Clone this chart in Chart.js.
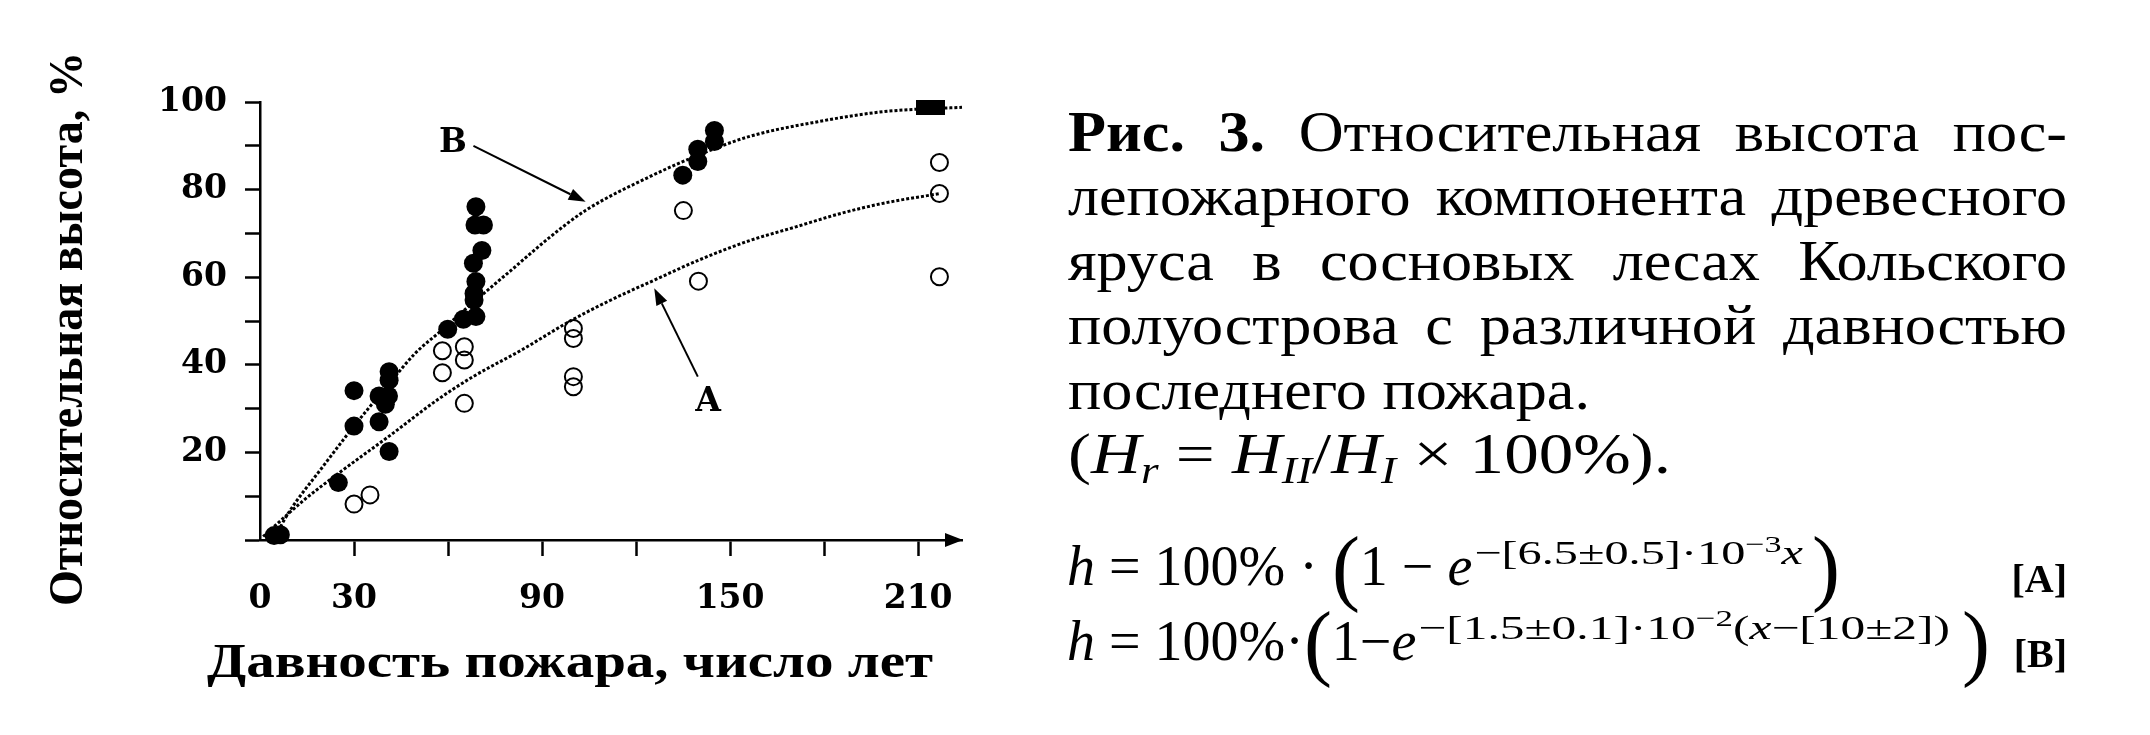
<!DOCTYPE html>
<html>
<head>
<meta charset="utf-8">
<script src="https://cdn.jsdelivr.net/npm/chart.js@4.4.1/dist/chart.umd.min.js"></script>
<style>
  html, body { margin: 0; padding: 0; background: #fff; }
  canvas { display: block; }
</style>
</head>
<body>
<canvas id="myChart" width="2150" height="735"></canvas>
<script>
// filled circles (curve B data), years since fire / relative height %
const filledX = [4.5, 6.5, 25, 30, 30, 38, 38, 40, 41, 41.2, 41.2, 41.2,
  59.9, 64.9, 68.9, 68.3, 68.3, 68.9, 68.1, 70.8, 68.6, 71.3, 68.9,
  134.9, 139.7, 139.7, 145, 145];
const filledY = [1, 1.2, 13.1, 34.1, 26, 27, 32.9, 31, 32.9, 38.4, 36.5, 20.2,
  48.1, 50.4, 51, 54.8, 56.3, 59, 63.2, 66.1, 71.9, 71.9, 76.1,
  83.3, 86.4, 89.2, 91, 93.5];

// open circles (curve A data)
const openX = [30, 35.1, 58.2, 58.2, 65.2, 65.2, 65.2, 100, 100, 100, 100, 135.1, 139.9, 216.8, 216.8, 216.8];
const openY = [8.2, 10.3, 43.2, 38.2, 44.1, 41.1, 31.2, 48.3, 46, 37.3, 35, 75.2, 59.1, 86.2, 79.1, 60.1];

// black block at the end of curve B
const squareX = [214];
const squareY = [98.8];

// fitted curves as drawn
const curveAX = [1, 14, 25, 41, 57, 68, 83.5, 99.5, 112, 126, 140, 156, 171, 185, 199, 217];
const curveAY = [0.8, 9.1, 15.2, 23.6, 32.2, 37.3, 43.4, 50.2, 54.8, 59.4, 63.9, 68.3, 71.5, 74.5, 76.9, 79.1];
const curveBX = [5, 9, 20, 30, 41, 49.5, 58, 66.5, 80, 92.6, 104, 124.5, 140, 156, 178, 199, 224];
const curveBY = [1, 6.1, 16.7, 26, 35.5, 42.6, 47.9, 53.3, 61.5, 69.2, 75.3, 83, 87.9, 92.1, 95.5, 97.8, 98.8];

const xTicks = [0, 30, 60, 90, 120, 150, 180, 210];
const xTickLabels = ['0', '30', '', '90', '', '150', '', '210'];
const yTickLabels = ['', '', '20', '', '40', '', '60', '', '80', '', '100'];

const xTitle = 'Давность пожара, число лет';
const yTitle = 'Относительная высота, %';

const captionLines = [
  [['Рис.', true], ['3.', true], ['Относительная'], ['высота'], ['пос-']],
  [['лепожарного'], ['компонента'], ['древесного']],
  [['яруса'], ['в'], ['сосновых'], ['лесах'], ['Кольского']],
  [['полуострова'], ['с'], ['различной'], ['давностью']],
  [['последнего'], ['пожара.']]
];

// curve labels with their arrows (data units)
const curveNotes = [
  { label: 'В', at: [61.6, 90.6], from: [68.1, 90.0], to: [103.9, 77.2] },
  { label: 'А', at: [143, 31.3], from: [139.7, 37.3], to: [125.8, 57.5] }
];

const toPts = (xs, ys) => xs.map((v, i) => ({ x: v, y: ys[i] }));

const block = document.createElement('canvas');
block.width = 29; block.height = 15;
const bctx = block.getContext('2d');
bctx.fillStyle = '#000';
bctx.fillRect(0, 0, 29, 15);

const SERIF = '"Liberation Serif", serif';

function fitText(ctx, text, x, y, font, width, align) {
  ctx.save();
  ctx.font = font;
  const s = width / ctx.measureText(text).width;
  ctx.translate(x, y);
  ctx.scale(s, 1);
  ctx.textAlign = align;
  ctx.fillText(text, 0, 0);
  ctx.restore();
}

function runsWidth(ctx, parts) {
  let w = 0;
  parts.forEach(p => { ctx.font = p.f; w += ctx.measureText(p.t).width + (p.gap || 0); });
  return w;
}

// draw a list of runs one after another, returns end x
function runs(ctx, x, y, parts, sx) {
  sx = sx || 1;
  parts.forEach(p => {
    ctx.font = p.f;
    ctx.save();
    ctx.translate(x, y + (p.dy || 0));
    ctx.scale(sx, 1);
    ctx.textAlign = 'left';
    ctx.fillText(p.t, 0, 0);
    ctx.restore();
    x += (ctx.measureText(p.t).width + (p.gap || 0)) * sx;
  });
  return x;
}

function arrow(ctx, x1, y1, x2, y2) {
  const a = Math.atan2(y2 - y1, x2 - x1);
  const len = 17, hw = 6;
  ctx.beginPath();
  ctx.moveTo(x1, y1);
  ctx.lineTo(x2 - len * Math.cos(a), y2 - len * Math.sin(a));
  ctx.lineWidth = 2;
  ctx.stroke();
  ctx.beginPath();
  ctx.moveTo(x2, y2);
  ctx.lineTo(x2 - len * Math.cos(a) + hw * Math.sin(a), y2 - len * Math.sin(a) - hw * Math.cos(a));
  ctx.lineTo(x2 - len * Math.cos(a) - hw * Math.sin(a), y2 - len * Math.sin(a) + hw * Math.cos(a));
  ctx.closePath();
  ctx.fill();
}

const extras = {
  id: 'extras',
  afterDraw(chart) {
    const { ctx, scales: { x, y } } = chart;
    const X = v => x.getPixelForValue(v);
    const Y = v => y.getPixelForValue(v);
    ctx.save();
    ctx.fillStyle = '#000';
    ctx.strokeStyle = '#000';

    // arrow head of the x axis
    const ax = x.right + 1, ay = Y(0);
    ctx.beginPath();
    ctx.moveTo(ax, ay);
    ctx.lineTo(ax - 18, ay - 7);
    ctx.lineTo(ax - 18, ay + 7);
    ctx.closePath();
    ctx.fill();

    curveNotes.forEach(n => {
      arrow(ctx, X(n.from[0]), Y(n.from[1]), X(n.to[0]), Y(n.to[1]));
      ctx.font = 'bold 33px "DejaVu Serif", serif';
      ctx.textAlign = 'center';
      ctx.textBaseline = 'middle';
      ctx.fillText(n.label, X(n.at[0]), Y(n.at[1]));
    });
    ctx.textBaseline = 'alphabetic';

    // axis titles
    fitText(ctx, xTitle, 570, 677, 'bold 48px ' + SERIF, 726, 'center');
    ctx.save();
    ctx.translate(82, 329);
    ctx.rotate(-Math.PI / 2);
    fitText(ctx, yTitle, 0, 0, 'bold 49px ' + SERIF, 554, 'center');
    ctx.restore();

    // caption block
    const L = 1068, R = 2067, base = 151, lh = 64.4;
    const reg = '58px ' + SERIF, bold = 'bold 58px ' + SERIF;
    ctx.font = reg;
    const sx = 522 / ctx.measureText('последнего пожара.').width;
    captionLines.forEach((words, i) => {
      const ws = words.map(w => { ctx.font = w[1] ? bold : reg; return ctx.measureText(w[0]).width * sx; });
      const total = ws.reduce((a, b) => a + b, 0);
      const last = i === captionLines.length - 1;
      ctx.font = reg;
      const gap = last ? ctx.measureText(' ').width * sx : (R - L - total) / (words.length - 1);
      let cx = L;
      words.forEach((w, j) => {
        runs(ctx, cx, base + lh * i, [{ t: w[0], f: w[1] ? bold : reg }], sx);
        cx += ws[j] + gap;
      });
    });

    const it = 'italic 58px ' + SERIF, sub = 'italic 38px ' + SERIF;
    const hr = [
      { t: '(', f: reg }, { t: 'H', f: it }, { t: 'r', f: sub, dy: 10 },
      { t: ' = ', f: reg }, { t: 'H', f: it }, { t: 'II', f: sub, dy: 10 },
      { t: '/', f: reg }, { t: 'H', f: it }, { t: 'I', f: sub, dy: 10 },
      { t: ' × 100%).', f: reg }
    ];
    runs(ctx, L, base + lh * 5, hr, 603 / runsWidth(ctx, hr));

    // formulas
    const fr = '56px ' + SERIF, fi = 'italic 56px ' + SERIF, big = '84px ' + SERIF;
    const s1 = '34px ' + SERIF, s1i = 'italic 34px ' + SERIF, s2 = '24px ' + SERIF;

    let ex = runs(ctx, 1067, 585, [
      { t: 'h', f: fi }, { t: ' = ', f: fr }, { t: '100% · ', f: fr },
      { t: '(', f: big, dy: 10 }, { t: '1 − ', f: fr }, { t: 'e', f: fi, gap: 2 }
    ]);
    const supA = [
      { t: '−[6.5±0.5]·10', f: s1, dy: -21 }, { t: '−3', f: s2, dy: -33 }, { t: 'x', f: s1i, dy: -21 }
    ];
    runs(ctx, ex, 585, supA, (1803 - ex) / runsWidth(ctx, supA));
    runs(ctx, 1812, 585, [{ t: ')', f: big, dy: 10 }]);

    ex = runs(ctx, 1067, 660, [
      { t: 'h', f: fi }, { t: ' = ', f: fr }, { t: '100%·', f: fr },
      { t: '(', f: big, dy: 10 }, { t: '1−', f: fr }, { t: 'e', f: fi, gap: 2 }
    ]);
    const supB = [
      { t: '−[1.5±0.1]·10', f: s1, dy: -21 }, { t: '−2', f: s2, dy: -34 },
      { t: '(', f: s1, dy: -21 }, { t: 'x', f: s1i, dy: -21 }, { t: '−[10±2])', f: s1, dy: -21 }
    ];
    runs(ctx, ex, 660, supB, (1950 - ex) / runsWidth(ctx, supB));
    runs(ctx, 1962, 660, [{ t: ')', f: big, dy: 10 }]);

    ctx.font = 'bold 40px ' + SERIF;
    ctx.textAlign = 'right';
    ctx.fillText('[А]', R, 592);
    ctx.fillText('[В]', R, 667);
    ctx.restore();
  }
};

const lineStyle = {
  showLine: true, fill: false, borderColor: '#000', borderWidth: 3, borderDash: [3, 2],
  pointRadius: 0, cubicInterpolationMode: 'monotone', clip: false, order: 2
};

new Chart(document.getElementById('myChart'), {
  type: 'scatter',
  data: {
    datasets: [
      Object.assign({ label: 'A', data: toPts(curveAX, curveAY) }, lineStyle),
      Object.assign({ label: 'B', data: toPts(curveBX, curveBY) }, lineStyle),
      {
        label: 'open', data: toPts(openX, openY), pointRadius: 8.5, borderWidth: 2,
        borderColor: '#000', backgroundColor: 'rgba(0,0,0,0)', clip: false, order: 1
      },
      {
        label: 'filled', data: toPts(filledX, filledY), pointRadius: 9.5, borderWidth: 0,
        backgroundColor: '#000', clip: false, order: 0
      },
      {
        label: 'block', data: toPts(squareX, squareY), pointStyle: block, clip: false, order: 0
      }
    ]
  },
  options: {
    responsive: false,
    animation: false,
    devicePixelRatio: 1,
    layout: { padding: { left: 0, right: 1188, top: 102, bottom: 0 } },
    plugins: { legend: { display: false }, tooltip: { enabled: false } },
    scales: {
      x: {
        type: 'linear', min: 0, max: 224,
        afterBuildTicks: s => { s.ticks = xTicks.map(v => ({ value: v })); },
        afterFit: s => { s.height = 195; },
        border: { color: '#000', width: 2.5 },
        grid: {
          drawOnChartArea: false, tickLength: 16, tickWidth: 2.5,
          tickColor: c => (c.tick && c.tick.value === 0 ? 'rgba(0,0,0,0)' : '#000')
        },
        ticks: {
          color: '#000', padding: 24, maxRotation: 0, autoSkip: false,
          font: { family: '"DejaVu Serif", serif', size: 33, weight: 'bold' },
          callback: (v, i) => xTickLabels[i]
        }
      },
      y: {
        min: 0, max: 100,
        afterFit: s => { s.width = 260; },
        border: { color: '#000', width: 2.5 },
        grid: { drawOnChartArea: false, tickLength: 15, tickWidth: 2.5, tickColor: '#000' },
        ticks: {
          stepSize: 10, color: '#000', padding: 18, autoSkip: false,
          font: { family: '"DejaVu Serif", serif', size: 33, weight: 'bold' },
          callback: (v, i) => yTickLabels[i]
        }
      }
    }
  },
  plugins: [extras]
});
</script>
</body>
</html>
